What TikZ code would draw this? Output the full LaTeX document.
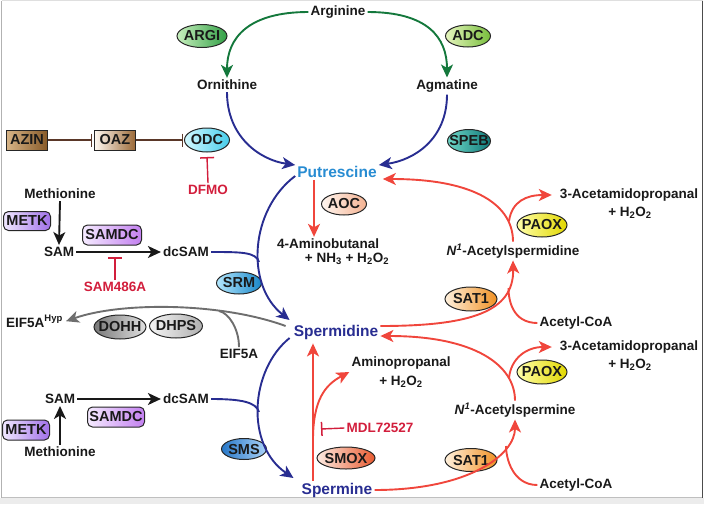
\documentclass[tikz,border=0pt]{standalone}
\usepackage{fontspec}
\setmainfont{Liberation Sans}
\usetikzlibrary{arrows.meta,shapes.geometric}
\definecolor{grn}{RGB}{20,120,60}
\definecolor{blu}{RGB}{40,45,145}
\definecolor{putc}{RGB}{40,140,210}
\definecolor{redl}{RGB}{240,70,60}
\definecolor{inhc}{RGB}{210,30,60}
\definecolor{brn}{RGB}{90,55,40}
\definecolor{gry}{RGB}{110,110,110}
\definecolor{txc}{RGB}{25,25,25}
\begin{document}
\begin{tikzpicture}[x=1pt,y=-1pt,
  txt/.style={font=\bfseries\fontsize{13.5}{19}\selectfont, text=txc, inner sep=2pt},
  pa/.style={font=\bfseries\fontsize{15.5}{18}\selectfont, inner sep=2pt},
  inh/.style={font=\bfseries\fontsize{13.5}{16}\selectfont, text=inhc, inner sep=2pt},
  enz/.style={ellipse, draw=black!85, line width=1pt, inner xsep=-10pt, inner ysep=-8pt, font=\bfseries\fontsize{14.5}{16}\selectfont, text=txc},
  encbox/.style={rectangle, draw=black!85, line width=1pt, inner sep=0pt, font=\bfseries\fontsize{14.5}{16}\selectfont, text=txc},
  rbox/.style={encbox, rounded corners=5pt},
  tip/.style={-{Stealth[length=13pt,width=12pt,inset=3.5pt]}},
  garr/.style={tip, draw=grn, line width=1.9pt},
  barr/.style={tip, draw=blu, line width=1.9pt},
  bline/.style={draw=blu, line width=1.9pt},
  rarr/.style={tip, draw=redl, line width=1.9pt},
  rline/.style={draw=redl, line width=1.9pt},
  karr/.style={tip, draw=txc, line width=1.9pt},
  yarr/.style={tip, draw=gry, line width=1.9pt},
  yline/.style={draw=gry, line width=1.9pt},
  brnbar/.style={-{Bar[width=13pt,line width=1.5pt]}, draw=brn, line width=1.4pt},
  redbar/.style={-{Bar[width=14pt,line width=1.5pt]}, draw=inhc, line width=1.4pt},
]
\useasboundingbox (0,0) rectangle (704,504);
% frame
\fill[gray!15] (0,498) rectangle (704,504);
\draw[gray!25, line width=1pt] (1.5,0.8) -- (702.5,0.8);
\draw[gray!60, line width=1pt] (1.5,0.8) -- (1.5,497.5);
\draw[gray!50, line width=1pt] (1.5,497.5) -- (702.5,497.5);
\draw[black!70, line width=1.2pt] (702.5,0.8) -- (702.5,497.5);

% metabolites
\node[txt] (arg) at (338,12) {Arginine};
\node[txt] (orn) at (227,85) {Ornithine};
\node[txt] (agm) at (447,86) {Agmatine};
\node[pa, text=putc] (put) at (337,172) {Putrescine};
\node[pa, text=blu] (spd) at (336,332) {Spermidine};
\node[pa, text=blu] (spm) at (337,490) {Spermine};
\node[txt] (amb1) at (328,244) {4-Aminobutanal};
\node[txt] (amb2) at (347,259) {+ NH\textsubscript{3} + H\textsubscript{2}O\textsubscript{2}};
\node[txt, align=center] (amp) at (401,372) {Aminopropanal\\+ H\textsubscript{2}O\textsubscript{2}};
\node[txt] (acspd) at (513,251) {\textit{N}\textsuperscript{\textit{1}}-Acetylspermidine};
\node[txt] (acspm) at (515,410) {\textit{N}\textsuperscript{\textit{1}}-Acetylspermine};
\node[txt] (acp1) at (629,195) {3-Acetamidopropanal};
\node[txt] (acp1b) at (630,213) {+ H\textsubscript{2}O\textsubscript{2}};
\node[txt] (acp2) at (629,347) {3-Acetamidopropanal};
\node[txt] (acp2b) at (630,365) {+ H\textsubscript{2}O\textsubscript{2}};
\node[txt] (acoa1) at (576,323) {Acetyl-CoA};
\node[txt] (acoa2) at (576,485) {Acetyl-CoA};
\node[txt] (metn1) at (60,194) {Methionine};
\node[txt] (sam1) at (59,252) {SAM};
\node[txt] (dcsam1) at (186,252) {dcSAM};
\node[txt] (sam2) at (60,399) {SAM};
\node[txt] (dcsam2) at (186,399) {dcSAM};
\node[txt] (metn2) at (60,452) {Methionine};
\node[txt, anchor=base west] (hyp) at (4,327) {EIF5A\textsuperscript{Hyp}};
\node[txt] (eif) at (239,354) {EIF5A};
\node[inh] (dfmo) at (208,190) {DFMO};
\node[inh] (s486) at (115,287) {SAM486A};
\node[inh] (mdl) at (380,428) {MDL72527};

% enzymes
\node[enz, minimum width=50pt, minimum height=23pt, left color={rgb,255:red,200;green,240;blue,190}, right color={rgb,255:red,50;green,160;blue,70}] (argi) at (202,36) {ARGI};
\node[enz, minimum width=45pt, minimum height=22pt, left color={rgb,255:red,230;green,245;blue,190}, right color={rgb,255:red,120;green,190;blue,60}] (adc) at (468,36) {ADC};
\node[enz, minimum width=45pt, minimum height=24pt, left color={rgb,255:red,210;green,248;blue,255}, right color={rgb,255:red,70;green,205;blue,235}] (odc) at (207,140) {ODC};
\node[enz, minimum width=43pt, minimum height=23pt, left color={rgb,255:red,110;green,215;blue,200}, right color={rgb,255:red,15;green,120;blue,120}] (speb) at (469,141) {SPEB};
\node[enz, minimum width=45pt, minimum height=22pt, left color={rgb,255:red,255;green,246;blue,240}, right color={rgb,255:red,244;green,178;blue,145}] (aoc) at (344,204) {AOC};
\node[enz, minimum width=45pt, minimum height=22pt, left color={rgb,255:red,180;green,232;blue,255}, right color={rgb,255:red,25;green,135;blue,200}] (srm) at (239,283) {SRM};
\node[enz, minimum width=52pt, minimum height=24pt, left color={rgb,255:red,120;green,120;blue,120}, right color={rgb,255:red,225;green,225;blue,225}] (dohh) at (120,327) {DOHH};
\node[enz, minimum width=53pt, minimum height=24pt, left color={rgb,255:red,245;green,245;blue,245}, right color={rgb,255:red,175;green,175;blue,175}] (dhps) at (176,326) {DHPS};
\node[enz, minimum width=45pt, minimum height=21pt, left color={rgb,255:red,40;green,120;blue,200}, right color={rgb,255:red,170;green,210;blue,248}] (sms) at (244,449) {SMS};
\node[enz, minimum width=58pt, minimum height=22pt, left color={rgb,255:red,253;green,235;blue,225}, right color={rgb,255:red,232;green,90;blue,48}] (smox) at (346,458) {SMOX};
\node[enz, minimum width=52pt, minimum height=24pt, left color={rgb,255:red,255;green,240;blue,220}, right color={rgb,255:red,240;green,145;blue,35}] (sat1a) at (471,299) {SAT1};
\node[enz, minimum width=52pt, minimum height=23pt, left color={rgb,255:red,255;green,240;blue,220}, right color={rgb,255:red,240;green,145;blue,35}] (sat1b) at (471,460) {SAT1};
\node[enz, minimum width=50pt, minimum height=24pt, left color={rgb,255:red,255;green,255;blue,170}, right color={rgb,255:red,225;green,215;blue,0}] (paoxa) at (542,225) {PAOX};
\node[enz, minimum width=50pt, minimum height=24pt, left color={rgb,255:red,255;green,255;blue,170}, right color={rgb,255:red,225;green,215;blue,0}] (paoxb) at (542,372) {PAOX};
\node[encbox, minimum width=41pt, minimum height=20pt, left color={rgb,255:red,215;green,180;blue,135}, right color={rgb,255:red,135;green,90;blue,40}] (azin) at (27,140) {AZIN};
\node[encbox, minimum width=41pt, minimum height=20pt, left color={rgb,255:red,255;green,248;blue,240}, right color={rgb,255:red,155;green,105;blue,55}] (oaz) at (115,140) {OAZ};
\node[rbox, minimum width=47pt, minimum height=19pt, left color={rgb,255:red,240;green,232;blue,255}, right color={rgb,255:red,160;green,112;blue,232}] (metk1) at (27,221) {METK};
\node[rbox, minimum width=59pt, minimum height=20pt, left color={rgb,255:red,245;green,235;blue,255}, right color={rgb,255:red,195;green,128;blue,240}] (samdc1) at (112,235) {SAMDC};
\node[rbox, minimum width=57pt, minimum height=20pt, left color={rgb,255:red,245;green,235;blue,255}, right color={rgb,255:red,195;green,128;blue,240}] (samdc2) at (116,417) {SAMDC};
\node[rbox, minimum width=47pt, minimum height=20pt, left color={rgb,255:red,240;green,232;blue,255}, right color={rgb,255:red,160;green,112;blue,232}] (metk2) at (26,430) {METK};

% junction coordinates
\coordinate (j1) at (259,262);
\coordinate (j2) at (259,412);
\coordinate (j3) at (219,311);
\coordinate (j4) at (313,440);
\coordinate (j5) at (321,429);
\coordinate (j6) at (509,221);
\coordinate (j7) at (508.5,288);
\coordinate (j8) at (506,446);
\coordinate (j9) at (509,378);
\coordinate (b1) at (207,157);
\coordinate (b2) at (115,257);

% green
\draw[garr] (arg.west) .. controls +(-60,0) and +(0,-40) .. (orn.north);
\draw[garr] (arg.east) .. controls +(60,0) and +(0,-40) .. (agm.north);
% blue to putrescine
\draw[barr] (orn.south) .. controls +(0,45) and +(-35,-5) .. ([yshift=7pt]put.west);
\draw[barr] (agm.south) .. controls +(0,45) and +(35,-5) .. ([yshift=7pt]put.east);
% blue arcs
\draw[barr] ([yshift=-4pt]put.west) .. controls (250,210) and (245,285) .. ([shift={(-2pt,12pt)}]spd.west);
\draw[bline] (dcsam1.east) .. controls +(30,0) and +(-3,-10) .. (j1);
\draw[barr] ([shift={(-2pt,-6pt)}]spd.west) .. controls (250,370) and (245,445) .. ([shift={(-6pt,12pt)}]spm.west);
\draw[bline] (dcsam2.east) .. controls +(30,0) and +(-3,-10) .. (j2);
% gray
\draw[yarr] ([shift={(-6pt,6pt)}]spd.west) .. controls (220,302) and (120,302) .. ([xshift=1pt]hyp.east);
\draw[yline] (eif.north) .. controls +(0,-18) and +(10,2) .. (j3);
% black
\draw[karr] (metn1.south) -- (sam1.north);
\draw[karr] (sam1.east) -- (dcsam1.west);
\draw[karr] (metn2.north) -- (sam2.south);
\draw[karr] (sam2.east) -- (dcsam2.west);
% inhibitions
\draw[brnbar, shorten >=2pt] (azin.east) -- (oaz.west);
\draw[brnbar, shorten >=1pt] (oaz.east) -- (odc.west);
\draw[redbar] (dfmo.north) -- (b1);
\draw[redbar] (s486.north) -- (b2);
\draw[redbar] (mdl.west) -- (j5);
% red
\draw[rarr] ([xshift=-23pt]put.south) -- ([xshift=-14pt]amb1.north);
\draw[rarr, shorten >=2pt] ([xshift=-24pt]spm.north) -- ([xshift=-23pt]spd.south);
\draw[rarr] (j4) .. controls (313,400) and (325,385) .. (amp.west);
\draw[rarr] (acspd.north) .. controls +(0,-35) and +(95,0) .. ([shift={(4pt,-7pt)}]put.east);
\draw[rarr] (j6) .. controls +(3,-20) and +(-25,0) .. ([xshift=-6pt]acp1.west);
\draw[rarr] ([yshift=6pt]spd.east) .. controls (470,326) and (514,312) .. (acspd.south);
\draw[rline] (acoa1.west) .. controls +(-25,0) and +(0,12) .. (j7);
\draw[rarr] (acspm.north) .. controls +(0,-35) and +(95,0) .. ([yshift=-4pt]spd.east);
\draw[rarr] (j9) .. controls +(2,-20) and +(-25,0) .. ([xshift=-6pt]acp2.west);
\draw[rarr] (spm.east) .. controls +(95,0) and +(0,35) .. (acspm.south);
\draw[rline] (acoa2.west) .. controls +(-25,0) and +(0,12) .. (j8);
\end{tikzpicture}
\end{document}
